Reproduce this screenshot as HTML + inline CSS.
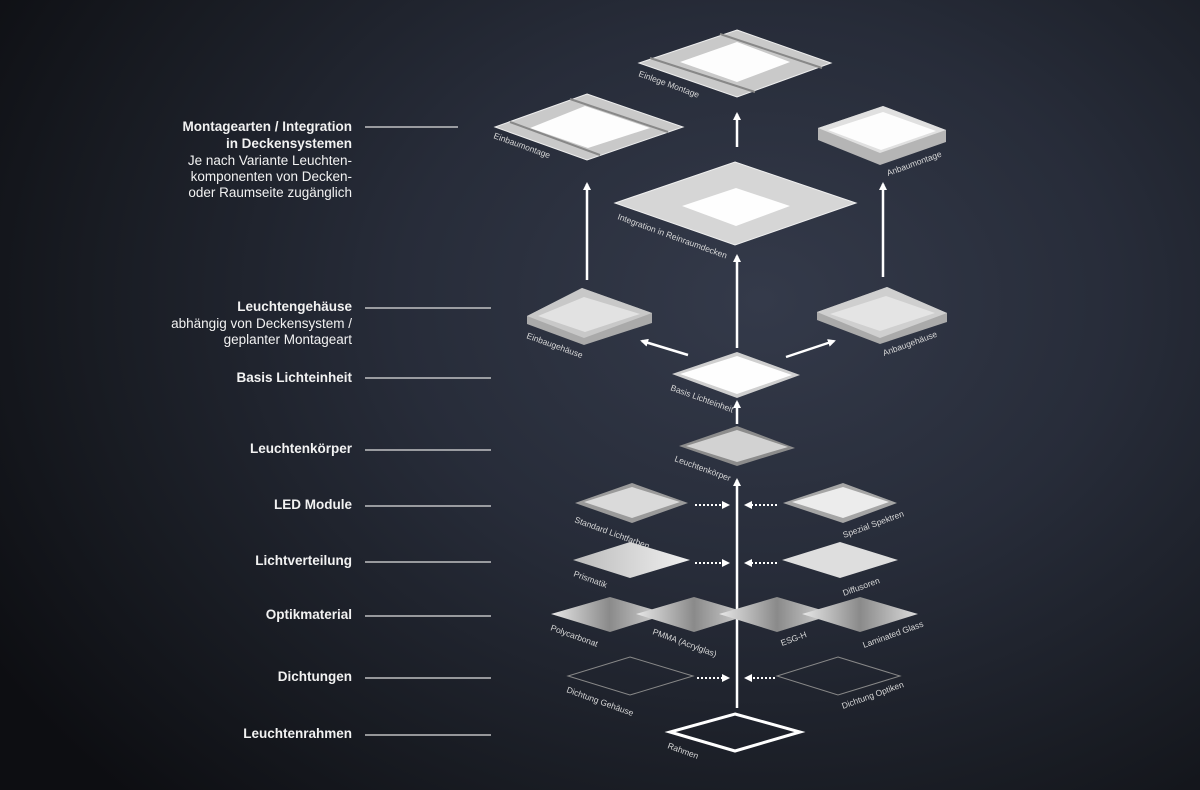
<!DOCTYPE html>
<html><head><meta charset="utf-8"><style>
html,body{margin:0;padding:0;}
body{width:1200px;height:790px;overflow:hidden;background:radial-gradient(ellipse 900px 700px at 760px 300px,#343a4a 0%,#272c39 40%,#181b22 75%,#0d0e12 100%);font-family:"Liberation Sans","DejaVu Sans",sans-serif;}
svg{position:absolute;left:0;top:0}
.l{font-size:13.5px;fill:#f2f2f2;text-anchor:end}
.b{font-weight:bold}
.s{font-size:8.5px;fill:#d8d8d8}
</style></head><body>
<svg width="1200" height="790" viewBox="0 0 1200 790">
<defs>
<linearGradient id="g1" x1="0" x2="1"><stop offset="0" stop-color="#e8e8e8"/><stop offset="0.5" stop-color="#8a8a8a"/><stop offset="1" stop-color="#dcdcdc"/></linearGradient>
<linearGradient id="g2" x1="0" x2="1"><stop offset="0" stop-color="#bbb"/><stop offset="1" stop-color="#f0f0f0"/></linearGradient>
<marker id="ah" markerWidth="8" markerHeight="8" refX="6" refY="4" orient="auto" markerUnits="userSpaceOnUse"><path d="M0,0 L8,4 L0,8 Z" fill="#fff"/></marker>
</defs>
<g class="l">
<text x="352" y="131" class="b">Montagearten / Integration</text>
<text x="352" y="148" class="b">in Deckensystemen</text>
<text x="352" y="165">Je nach Variante Leuchten-</text>
<text x="352" y="181">komponenten von Decken-</text>
<text x="352" y="197">oder Raumseite zugänglich</text>
<text x="352" y="311" class="b">Leuchtengehäuse</text>
<text x="352" y="328">abhängig von Deckensystem /</text>
<text x="352" y="344">geplanter Montageart</text>
<text x="352" y="382" class="b">Basis Lichteinheit</text>
<text x="352" y="453" class="b">Leuchtenkörper</text>
<text x="352" y="509" class="b">LED Module</text>
<text x="352" y="565" class="b">Lichtverteilung</text>
<text x="352" y="619" class="b">Optikmaterial</text>
<text x="352" y="681" class="b">Dichtungen</text>
<text x="352" y="738" class="b">Leuchtenrahmen</text>
</g>
<g stroke="#e0e0e0" stroke-width="1.2">
<line x1="365" y1="127" x2="458" y2="127"/>
<line x1="365" y1="308" x2="491" y2="308"/>
<line x1="365" y1="378" x2="491" y2="378"/>
<line x1="365" y1="450" x2="491" y2="450"/>
<line x1="365" y1="506" x2="491" y2="506"/>
<line x1="365" y1="562" x2="491" y2="562"/>
<line x1="365" y1="616" x2="491" y2="616"/>
<line x1="365" y1="678" x2="491" y2="678"/>
<line x1="365" y1="735" x2="491" y2="735"/>
</g>
<g stroke="#fff" stroke-width="2.5" fill="none" marker-end="url(#ah)">
<line x1="587" y1="280" x2="587" y2="184"/>
<line x1="737" y1="147" x2="737" y2="114"/>
<line x1="737" y1="348" x2="737" y2="256"/>
<line x1="883" y1="277" x2="883" y2="184"/>
<line x1="688" y1="355" x2="642" y2="341"/>
<line x1="786" y1="357" x2="834" y2="341"/>
<line x1="737" y1="424" x2="737" y2="402"/>
<line x1="737" y1="708" x2="737" y2="480"/>
</g>
<g stroke="#fff" stroke-width="2" stroke-dasharray="2,2" fill="none" marker-end="url(#ah)">
<line x1="695" y1="505" x2="728" y2="505"/>
<line x1="777" y1="505" x2="746" y2="505"/>
<line x1="695" y1="563" x2="728" y2="563"/>
<line x1="777" y1="563" x2="746" y2="563"/>
<line x1="697" y1="678" x2="728" y2="678"/>
<line x1="775" y1="678" x2="746" y2="678"/>
</g>
<polygon points="737,30 831,63 737,97 639,63" fill="#c9c9c9" stroke="#eee" stroke-width="1"/>
<polygon points="737,42 790,62 737,82 680,62" fill="#fdfdfd"/>
<line x1="650" y1="58" x2="755" y2="92" stroke="#888" stroke-width="2"/>
<line x1="720" y1="34" x2="822" y2="68" stroke="#888" stroke-width="2"/>
<polygon points="587,94 683,127 587,160 495,127" fill="#c9c9c9" stroke="#eee"/>
<polygon points="585,106 650,128 588,148 530,128" fill="#fdfdfd"/>
<line x1="510" y1="122" x2="600" y2="155" stroke="#888" stroke-width="2"/>
<line x1="570" y1="99" x2="668" y2="132" stroke="#888" stroke-width="2"/>
<polygon points="818,128 883,106 946,130 946,142 880,165 818,140" fill="#b5b5b5"/>
<polygon points="818,128 883,106 946,130 880,153" fill="#e0e0e0"/>
<polygon points="828,130 883,112 936,131 881,150" fill="#fdfdfd"/>
<polygon points="735,162 856,203 735,245 615,203" fill="#d6d6d6" stroke="#f0f0f0"/>
<polygon points="736,188 790,206 736,226 682,206" fill="#fefefe"/>
<polygon points="527,316 582,288 652,313 652,323 584,345 527,324" fill="#aaa"/>
<polygon points="527,316 582,288 652,313 584,338" fill="#c8c8c8"/>
<polygon points="538,316 584,297 640,314 585,332" fill="#e2e2e2"/>
<polygon points="817,312 887,287 947,313 947,322 880,344 817,320" fill="#aaa"/>
<polygon points="817,312 887,287 947,313 880,338" fill="#cfcfcf"/>
<polygon points="830,314 886,296 935,313 880,331" fill="#e4e4e4"/>
<polygon points="737,352 800,375 737,398 672,374" fill="#cfcfcf"/>
<polygon points="737,356 792,375 737,394 680,374" fill="#fefefe"/>
<polygon points="737,426 795,448 737,466 679,446" fill="#8c8c8c"/>
<polygon points="737,430 788,447 737,462 686,446" fill="#d2d2d2"/>
<polygon points="632,483 688,503 632,523 575,503" fill="#9a9a9a"/>
<polygon points="632,487 680,502 632,518 584,502" fill="#dadada"/>
<polygon points="843,483 897,503 843,523 783,503" fill="#a5a5a5"/>
<polygon points="843,487 889,502 843,518 792,502" fill="#ececec"/>
<polygon points="630,542 690,560 630,578 573,560" fill="url(#g2)"/>
<polygon points="840,542 898,560 840,578 782,560" fill="#dedede"/>
<polygon points="610,597 668,614 610,632 551,614" fill="url(#g1)"/>
<polygon points="694,597 752,614 694,632 636,614" fill="url(#g1)"/>
<polygon points="777,597 835,614 777,632 719,614" fill="url(#g1)"/>
<polygon points="860,597 918,614 860,632 802,614" fill="url(#g1)"/>
<polygon points="630,657 693,676 630,695 568,676" fill="none" stroke="#888" stroke-width="1"/>
<polygon points="838,657 900,676 838,695 777,676" fill="none" stroke="#888" stroke-width="1"/>
<polygon points="735,714 800,732 735,751 670,732" fill="none" stroke="#fff" stroke-width="3"/>
<g class="s">
<text transform="translate(638,76) rotate(20)">Einlege Montage</text>
<text transform="translate(493,138) rotate(20)">Einbaumontage</text>
<text transform="translate(888,176) rotate(-20)">Anbaumontage</text>
<text transform="translate(617,219) rotate(20)">Integration in Reinraumdecken</text>
<text transform="translate(526,338) rotate(20)">Einbaugehäuse</text>
<text transform="translate(884,356) rotate(-20)">Anbaugehäuse</text>
<text transform="translate(670,390) rotate(20)">Basis Lichteinheit</text>
<text transform="translate(674,461) rotate(20)">Leuchtenkörper</text>
<text transform="translate(574,522) rotate(20)">Standard Lichtfarben</text>
<text transform="translate(844,538) rotate(-20)">Spezial Spektren</text>
<text transform="translate(573,576) rotate(20)">Prismatik</text>
<text transform="translate(844,596) rotate(-20)">Diffusoren</text>
<text transform="translate(550,630) rotate(20)">Polycarbonat</text>
<text transform="translate(652,634) rotate(20)">PMMA (Acrylglas)</text>
<text transform="translate(782,646) rotate(-20)">ESG-H</text>
<text transform="translate(864,648) rotate(-20)">Laminated Glass</text>
<text transform="translate(566,692) rotate(20)">Dichtung Gehäuse</text>
<text transform="translate(843,709) rotate(-20)">Dichtung Optiken</text>
<text transform="translate(667,748) rotate(20)">Rahmen</text>
</g>
</svg>
</body></html>
